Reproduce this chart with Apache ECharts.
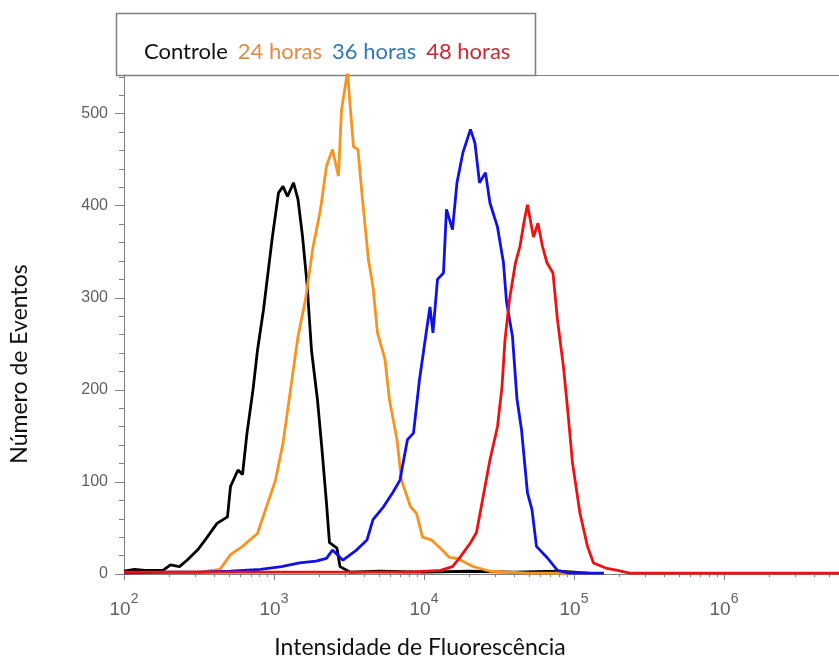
<!DOCTYPE html>
<html>
<head>
<meta charset="utf-8">
<script src="https://cdn.jsdelivr.net/npm/echarts@6/dist/echarts.min.js"></script>
<style>
    html, body { margin: 0; padding: 0; background: #fff; }
    #main { width: 839px; height: 661px; }
</style>
</head>
<body>
<div id="main"></div>
<script>
// x values are log10 of the fluorescence intensity
var controleLog = [2.00, 2.07, 2.14, 2.20, 2.26, 2.31, 2.37, 2.42, 2.49, 2.55, 2.62, 2.69, 2.71, 2.76, 2.79, 2.82, 2.86, 2.89, 2.93, 2.96, 2.99, 3.03, 3.06, 3.09, 3.13, 3.16, 3.19, 3.22, 3.25, 3.29, 3.32, 3.35, 3.37, 3.42, 3.44, 3.51, 3.7, 4.0, 4.3, 4.6, 4.9, 5.1];
var controleCount = [3, 5, 4, 4, 4, 10, 8, 15, 26, 39, 55, 62, 95, 113, 108, 153, 200, 243, 287, 327, 367, 414, 421, 410, 425, 407, 367, 316, 243, 189, 135, 77, 34, 28, 8, 2, 3, 2, 3, 2, 3, 1];

var h24Log = [2.0, 2.3, 2.5, 2.64, 2.71, 2.79, 2.89, 2.95, 3.01, 3.06, 3.11, 3.16, 3.21, 3.26, 3.31, 3.35, 3.39, 3.43, 3.45, 3.49, 3.51, 3.53, 3.56, 3.59, 3.63, 3.66, 3.69, 3.74, 3.77, 3.82, 3.85, 3.91, 3.95, 3.99, 4.05, 4.11, 4.17, 4.22, 4.33, 4.44, 4.7, 5.1];
var h24Count = [1, 2, 2, 5, 21, 30, 44, 73, 102, 142, 200, 258, 298, 355, 396, 443, 461, 432, 504, 545, 504, 464, 461, 407, 341, 312, 262, 233, 189, 146, 102, 73, 66, 40, 37, 28, 18, 17, 8, 3, 1, 1];

var h36Log = [2.0, 2.3, 2.51, 2.71, 2.91, 3.05, 3.17, 3.28, 3.35, 3.39, 3.46, 3.55, 3.62, 3.66, 3.73, 3.79, 3.84, 3.89, 3.93, 3.97, 4.02, 4.04, 4.06, 4.09, 4.13, 4.15, 4.19, 4.22, 4.26, 4.31, 4.34, 4.37, 4.41, 4.44, 4.49, 4.53, 4.55, 4.59, 4.62, 4.65, 4.69, 4.72, 4.75, 4.82, 4.89, 4.97, 5.2];
var h36Count = [1, 2, 2, 3, 5, 8, 12, 14, 17, 26, 15, 26, 37, 59, 73, 88, 102, 146, 153, 211, 268, 290, 262, 320, 327, 396, 374, 425, 458, 483, 468, 425, 436, 403, 377, 338, 296, 258, 190, 157, 88, 70, 30, 18, 4, 1, 1];

var h48Log = [2.0, 2.5, 3.0, 3.5, 3.9, 4.11, 4.19, 4.24, 4.31, 4.35, 4.39, 4.44, 4.49, 4.52, 4.54, 4.57, 4.61, 4.64, 4.67, 4.69, 4.73, 4.76, 4.79, 4.82, 4.86, 4.89, 4.93, 4.96, 4.99, 5.04, 5.09, 5.13, 5.22, 5.29, 5.37, 6.0, 6.77];
var h48Count = [2, 2, 2, 2, 2, 4, 8, 18, 34, 45, 80, 124, 160, 203, 254, 298, 338, 356, 385, 401, 366, 381, 356, 338, 327, 276, 225, 175, 121, 66, 30, 12, 6, 4, 1, 1, 1];

var seriesNames = ['Controle', '24 horas', '36 horas', '48 horas'];
var xDecades = [2, 3, 4, 5, 6];
var yTicks = [0, 100, 200, 300, 400, 500];

var xMin = 2, xMax = 6.767;
var yMax = 542;

function pairs(xs, ys) {
    var out = [];
    for (var i = 0; i < xs.length; i++) out.push([xs[i], ys[i]]);
    return out;
}

// minor ticks at 2..9 x 10^n, and every 20 on the count axis
var xMinor = [];
for (var n = 2; n <= 6; n++) {
    for (var k = 2; k <= 9; k++) {
        var v = n + Math.log10(k);
        if (v <= xMax) xMinor.push(v);
    }
}
var yMinor = [];
for (var m = 20; m <= yMax; m += 20) {
    if (m % 100 !== 0) yMinor.push(m);
}

var axisGray = '#808080';
var labelGray = '#606060';

var myChart = echarts.init(document.getElementById('main'));

var option = {
    animation: false,
    backgroundColor: '#fff',
    grid: { left: 124, top: 75, right: 0, bottom: 87 },
    legend: {
        left: 133, top: 36,
        itemWidth: 0, itemHeight: 0, itemGap: 4,
        textStyle: { fontFamily: 'Lato', fontSize: 22 },
        data: [
            { name: 'Controle', textStyle: { color: '#111111' } },
            { name: '24 horas', textStyle: { color: '#E38A45' } },
            { name: '36 horas', textStyle: { color: '#2F78B4' } },
            { name: '48 horas', textStyle: { color: '#CB2A33' } }
        ]
    },
    xAxis: [{
        type: 'value', min: xMin, max: xMax, position: 'bottom',
        axisLine: { lineStyle: { color: axisGray } },
        axisTick: { customValues: xDecades, length: 6, lineStyle: { color: axisGray } },
        axisLabel: {
            customValues: xDecades, margin: 18,
            formatter: function (v) { return '{b|10}{s|' + v + '}'; },
            rich: {
                b: { fontFamily: 'Liberation Sans', fontSize: 19, color: labelGray },
                s: { fontFamily: 'Liberation Sans', fontSize: 14, color: labelGray, padding: [0, 0, 21, 0] }
            }
        },
        splitLine: { show: false }
    }, {
        type: 'value', min: xMin, max: xMax, position: 'bottom',
        axisLine: { show: false },
        axisTick: { customValues: xMinor, length: 3, lineStyle: { color: axisGray } },
        axisLabel: { show: false },
        splitLine: { show: false }
    }, {
        type: 'value', min: xMin, max: xMax, position: 'top',
        axisLine: { lineStyle: { color: axisGray } },
        axisTick: { show: false },
        axisLabel: { show: false },
        splitLine: { show: false }
    }],
    yAxis: [{
        type: 'value', min: 0, max: yMax, position: 'left',
        axisLine: { show: true, lineStyle: { color: axisGray } },
        axisTick: { show: true, customValues: yTicks, length: 9, lineStyle: { color: axisGray } },
        axisLabel: {
            customValues: yTicks, margin: 16,
            fontFamily: 'Liberation Sans', fontSize: 16, color: labelGray
        },
        splitLine: { show: false }
    }, {
        type: 'value', min: 0, max: yMax, position: 'left',
        axisLine: { show: false },
        axisTick: { show: true, customValues: yMinor, length: 5, lineStyle: { color: axisGray } },
        axisLabel: { show: false },
        splitLine: { show: false }
    }],
    graphic: [{
        type: 'rect',
        shape: { x: 116.5, y: 13.5, width: 419, height: 62 },
        style: { fill: 'none', stroke: axisGray, lineWidth: 1.5 }
    }, {
        type: 'text', x: 420, y: 648,
        style: {
            text: 'Intensidade de Fluorescência', fontFamily: 'Lato', fontSize: 23,
            fill: '#111', align: 'center', verticalAlign: 'middle'
        }
    }, {
        type: 'text', x: 20, y: 364, rotation: Math.PI / 2,
        style: {
            text: 'Número de Eventos', fontFamily: 'Lato', fontSize: 23,
            fill: '#111', align: 'center', verticalAlign: 'middle'
        }
    }],
    series: [{
        name: seriesNames[0], type: 'line', showSymbol: false,
        lineStyle: { color: '#000000', width: 2.8 }, itemStyle: { color: '#000000' },
        data: pairs(controleLog, controleCount)
    }, {
        name: seriesNames[1], type: 'line', showSymbol: false,
        lineStyle: { color: '#F7931E', width: 2.8 }, itemStyle: { color: '#F7931E' },
        data: pairs(h24Log, h24Count)
    }, {
        name: seriesNames[2], type: 'line', showSymbol: false,
        lineStyle: { color: '#1010E8', width: 2.8 }, itemStyle: { color: '#1010E8' },
        data: pairs(h36Log, h36Count)
    }, {
        name: seriesNames[3], type: 'line', showSymbol: false,
        lineStyle: { color: '#EE1111', width: 2.8 }, itemStyle: { color: '#EE1111' },
        data: pairs(h48Log, h48Count)
    }]
};

myChart.setOption(option);
</script>
</body>
</html>
